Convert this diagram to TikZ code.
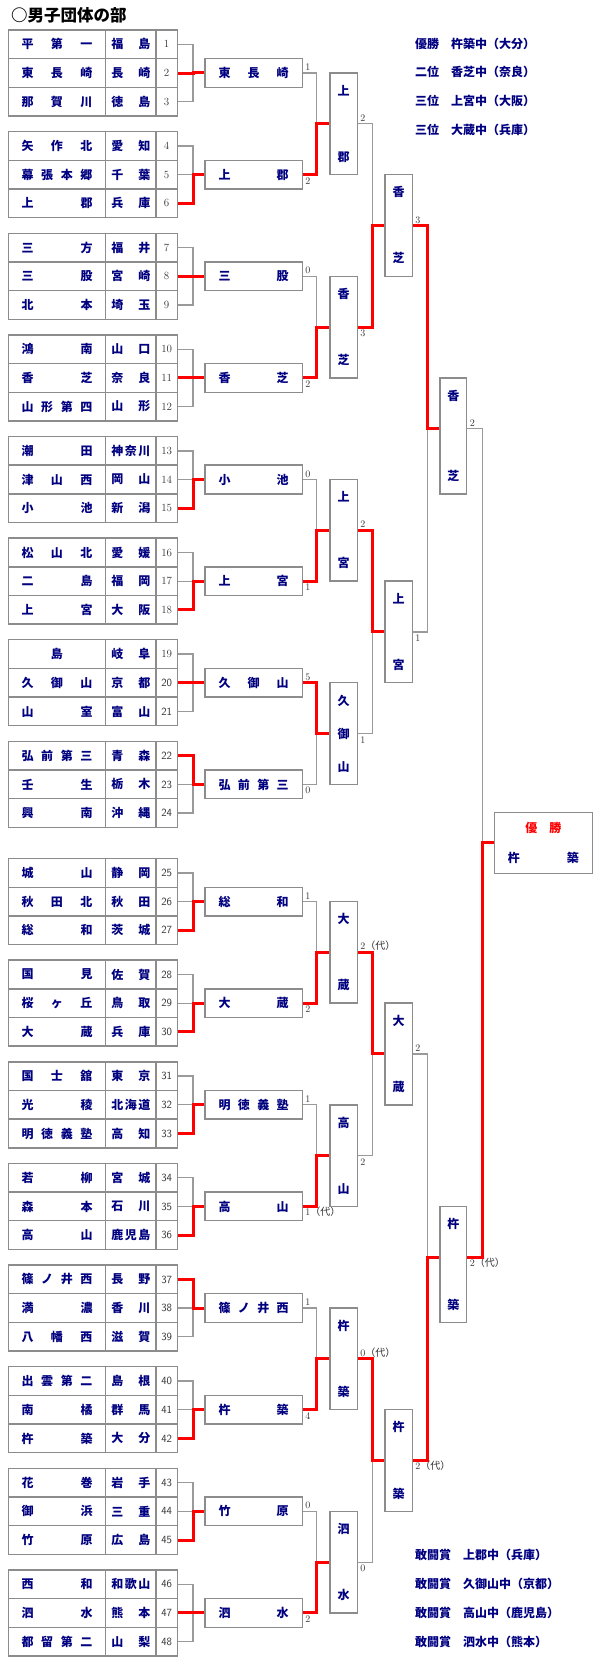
\documentclass[tikz,border=0pt]{standalone}
\usepackage{fontspec}
\usepackage{xcolor}
\usepackage{tikz}
\usetikzlibrary{positioning,calc}

\newfontfamily\cjk{Noto Sans CJK JP}
\definecolor{teamblue}{HTML}{000080}
\definecolor{cellgray}{HTML}{8C8C8C}
\definecolor{linegray}{HTML}{9A9A9A}
\definecolor{numgray}{HTML}{333333}

% spread the characters of a name over a fixed width
\newcommand\spreadchars[1]{\expandafter\spreadfirst#1\relax}
\def\spreadfirst#1{#1\spreadnext}
\def\spreadnext#1{\ifx#1\relax\else\hfill#1\expandafter\spreadnext\fi}
% same, stacked in a column
\newcommand\vchar[1]{\hbox to 12pt{\hss\vrule width 0pt height 10.5pt depth 1.5pt#1\hss}}
\newcommand\vspread[2]{\vbox to #1{\offinterlineskip\expandafter\vspreadfirst#2\relax}}
\def\vspreadfirst#1{\vchar{#1}\vspreadnext}
\def\vspreadnext#1{\ifx#1\relax\else\vfill\vchar{#1}\expandafter\vspreadnext\fi}
\newcommand\dai{{\cjk （代）}}

\tikzset{
  cell/.style={draw=cellgray, line width=1.4pt, fill=white, minimum height=28.67pt, inner sep=0pt,
    text=teamblue, font=\cjk\bfseries\fontsize{12}{14}\selectfont},
  namecell/.style={cell, minimum width=97.4pt},
  prefcell/.style={cell, minimum width=50.3pt},
  numcell/.style={cell, minimum width=21.3pt, text=numgray, font=\fontsize{11}{13}\selectfont},
  winbox/.style={cell, minimum width=97.3pt},
  tallbox/.style={cell, minimum width=27.3pt, minimum height=101.63pt},
  semibox/.style={cell, minimum width=26.7pt, minimum height=116pt},
  champbox/.style={cell, minimum width=98pt, minimum height=60.6pt, align=center},
  score/.style={inner sep=2.2pt, text height=7pt, text depth=0pt, text=numgray, font=\fontsize{10}{11}\selectfont},
  loseline/.style={draw=linegray, line width=1.3pt},
  winline/.style={draw=red, line width=3pt},
  listtext/.style={anchor=west, inner sep=0pt, text=teamblue, font=\cjk\bfseries\fontsize{12}{14}\selectfont},
}

\begin{document}
\begin{tikzpicture}[x=1pt, y=-1pt]
\useasboundingbox (0,0) rectangle (600,1680);
\node[anchor=west, inner sep=0pt, font=\cjk\bfseries\fontsize{16.5}{18}\selectfont] (title) at (11,15) {○男子団体の部};

% entry table
\foreach \tm/\nm/\pf in {1/平第一/福島, 2/東長崎/長崎, 3/那賀川/徳島,
  4/矢作北/愛知, 5/幕張本郷/千葉, 6/上郡/兵庫, 7/三方/福井, 8/三股/宮崎, 9/北本/埼玉,
  10/鴻南/山口, 11/香芝/奈良, 12/山形第四/山形, 13/潮田/神奈川, 14/津山西/岡山, 15/小池/新潟,
  16/松山北/愛媛, 17/二島/福岡, 18/上宮/大阪, 19/　島　/岐阜, 20/久御山/京都, 21/山室/富山,
  22/弘前第三/青森, 23/壬生/栃木, 24/興南/沖縄, 25/城山/静岡, 26/秋田北/秋田, 27/総和/茨城,
  28/国見/佐賀, 29/桜ヶ丘/鳥取, 30/大蔵/兵庫, 31/国士舘/東京, 32/光稜/北海道, 33/明徳義塾/高知,
  34/若柳/宮城, 35/森本/石川, 36/高山/鹿児島, 37/篠ノ井西/長野, 38/満濃/香川, 39/八幡西/滋賀,
  40/出雲第二/島根, 41/南橘/群馬, 42/杵築/大分, 43/花巻/岩手, 44/御浜/三重, 45/竹原/広島,
  46/西和/和歌山, 47/泗水/熊本, 48/都留第二/山梨}{
  \pgfmathtruncatemacro\grp{(\tm-1)/3}
  \pgfmathtruncatemacro\rw{\tm-1-3*\grp}
  \pgfmathsetmacro\yy{30+\grp*101.63+(\grp>7)*15.5+(\rw+0.5)*28.67}
  \node[namecell] (nm\tm) at (57,\yy) {\hbox to 71pt{\spreadchars{\nm}}};
  \node[prefcell] (pf\tm) at (130.85,\yy) {\hbox to 39pt{\spreadchars{\pf}}};
  \node[numcell] (n\tm) at (166.65,\yy) {\ifnum\tm>19 \sffamily\fi\tm};
}

% second round
\foreach \b/\nm/\sc in {1/東長崎/1, 2/上郡/2, 3/三股/0, 4/香芝/2, 5/小池/0, 6/上宮/1, 7/久御山/5, 8/弘前第三/0,
  9/総和/1, 10/大蔵/2, 11/明徳義塾/1, 12/高山/1\dai, 13/篠ノ井西/1, 14/杵築/4, 15/竹原/0, 16/泗水/2}{
  \pgfmathsetmacro\yy{73+(\b-1)*101.63+(\b>8)*15.5}
  \node[winbox] (b\b) at (253.65,\yy) {\hbox to 70pt{\spreadchars{\nm}}};
  \coordinate (j\b) at (193,\yy);
  \ifodd\b\relax \node[score, anchor=south west] (sb\b) at (b\b.east) {\sc};
  \else \node[score, anchor=north west] (sb\b) at (b\b.east) {\sc};\fi
}

% third round
\foreach \k/\nm/\sc in {1/上郡/2, 2/香芝/3, 3/上宮/2, 4/久御山/1, 5/大蔵/2\dai, 6/高山/2, 7/杵築/0\dai, 8/泗水/0}{
  \pgfmathsetmacro\yy{73+(2*\k-1.5)*101.63+(\k>4)*15.5}
  \node[tallbox] (c\k) at (343.65,\yy) {\vspread{76.6pt}{\nm}};
  \coordinate (jj\k) at (316.7,\yy);
  \ifodd\k\relax \node[score, anchor=south west] (sc\k) at (c\k.east) {\sc};
  \else \node[score, anchor=north west] (sc\k) at (c\k.east) {\sc};\fi
}

% quarter finals
\foreach \m/\nm/\sc in {1/香芝/3, 2/上宮/1, 3/大蔵/2, 4/杵築/2\dai}{
  \pgfmathsetmacro\yy{73+(4*\m-2.5)*101.63+(\m>2)*15.5}
  \node[tallbox] (d\m) at (398.65,\yy) {\vspread{76.6pt}{\nm}};
  \coordinate (jjj\m) at (372.7,\yy);
  \ifodd\m\relax \node[score, anchor=south west] (sd\m) at (d\m.east) {\sc};
  \else \node[score, anchor=north west] (sd\m) at (d\m.east) {\sc};\fi
}

% semi finals
\foreach \n/\nm in {1/香芝, 2/杵築}{
  \pgfmathsetmacro\yy{73+(8*\n-4.5)*101.63+(\n>1)*15.5}
  \coordinate (js\n) at (427.3,\yy);
  \node[semibox] (s\n) at (453.35,\yy+7.3) {\vspread{91pt}{\nm}};
}
\node[score, anchor=south west] (ss1) at (js1 -| s1.east) {2};
\node[score, anchor=north west] (ss2) at (js2 -| s2.east) {2\dai};
\coordinate (jf) at (482.3,842.95);
\node[champbox] (champ) at (543.3,843) {\textcolor{red}{優　勝}\\[16pt]\hbox to 71pt{\spreadchars{杵築}}};

% connectors, losers grey, winners red
\foreach \b/\w in {1/2, 2/6, 3/8, 4/11, 5/15, 6/18, 7/20, 8/22, 9/27, 10/30, 11/33, 12/36, 13/37, 14/42, 15/45, 16/47}{
  \foreach \q in {0,1,2}{
    \pgfmathtruncatemacro\tm{3*\b-2+\q}
    \ifnum\tm=\w\relax\else \draw[loseline] (n\tm.east) -| (j\b);\fi
  }
  \draw[winline] (n\w.east) -| (j\b) -- (b\b.west);
}
\foreach \k/\w in {1/2, 2/4, 3/6, 4/7, 5/10, 6/12, 7/14, 8/16}{
  \pgfmathtruncatemacro\ls{4*\k-1-\w}
  \draw[loseline] (b\ls.east) -| (jj\k);
  \draw[winline] (b\w.east) -| (jj\k) -- (c\k.west);
}
\foreach \m/\w in {1/2, 2/3, 3/5, 4/7}{
  \pgfmathtruncatemacro\ls{4*\m-1-\w}
  \draw[loseline] (c\ls.east) -| (jjj\m);
  \draw[winline] (c\w.east) -| (jjj\m) -- (d\m.west);
}
\foreach \n/\w in {1/1, 2/4}{
  \pgfmathtruncatemacro\ls{4*\n-1-\w}
  \draw[loseline] (d\ls.east) -| (js\n);
  \draw[winline] (d\w.east) -| (js\n) -- (js\n -| s\n.west);
}
\draw[loseline] (js1 -| s1.east) -| (jf);
\draw[winline] (js2 -| s2.east) -| (jf) -- (jf -| champ.west);

% results
\foreach \q/\txt in {0/優勝　杵築中（大分）, 1/二位　香芝中（奈良）, 2/三位　上宮中（大阪）, 3/三位　大蔵中（兵庫）}
  \node[listtext] (rank\q) at (415,43.5+28.7*\q) {\txt};
\foreach \q/\txt in {0/敢闘賞　上郡中（兵庫）, 1/敢闘賞　久御山中（京都）, 2/敢闘賞　高山中（鹿児島）, 3/敢闘賞　泗水中（熊本）}
  \node[listtext] (prize\q) at (415,1555+28.9*\q) {\txt};
\end{tikzpicture}
\end{document}
